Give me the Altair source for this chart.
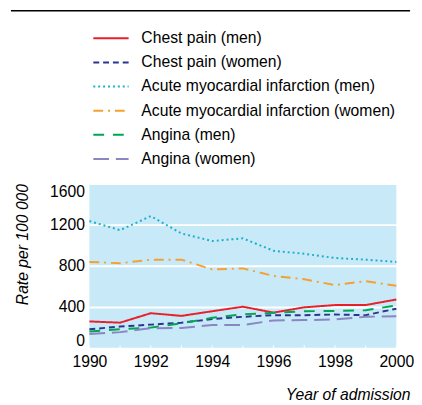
import altair as alt
import pandas as pd

years = list(range(1990, 2001))
series_names = [
    "Chest pain (men)",
    "Chest pain (women)",
    "Acute myocardial infarction (men)",
    "Acute myocardial infarction (women)",
    "Angina (men)",
    "Angina (women)",
]
chest_pain_men = [260, 248, 340, 314, 359, 403, 346, 397, 419, 419, 473]
chest_pain_women = [184, 210, 229, 248, 283, 305, 321, 321, 327, 321, 384]
ami_men = [1235, 1146, 1283, 1114, 1041, 1067, 946, 917, 876, 860, 838]
ami_women = [838, 825, 860, 860, 765, 775, 702, 670, 613, 651, 606]
angina_men = [162, 184, 200, 241, 295, 330, 343, 359, 362, 368, 416]
angina_women = [137, 156, 194, 197, 225, 225, 270, 273, 279, 305, 311]

colors = ["#e8202a", "#2b3590", "#1ab0c8", "#f5a030", "#00a651", "#8a86c2"]
dashes = [[1, 0], [6, 4], [2, 3], [10, 5, 2, 5], [11, 9], [16, 7]]

rows = []
for name, vals in zip(series_names, [chest_pain_men, chest_pain_women, ami_men,
                                     ami_women, angina_men, angina_women]):
    for y, v in zip(years, vals):
        rows.append({"year": y, "rate": v, "series": name})
df = pd.DataFrame(rows)

FONT = "Liberation Sans"

xscale = alt.Scale(domain=[1990, 2000], nice=False, zero=False)

lines = alt.Chart(df).mark_line(strokeWidth=2, clip=False).encode(
    x=alt.X("year:Q", scale=xscale,
            axis=alt.Axis(values=list(range(1990, 2001, 2)),
                          format="d", grid=False, domain=False, ticks=False,
                          labelFontSize=16, labelFont=FONT, labelColor="black",
                          labelPadding=6, labelFlush=False,
                          title="Year of admission", titleFont=FONT,
                          titleFontStyle="italic", titleFontWeight="normal",
                          titleFontSize=16, titleColor="black",
                          titleAnchor="end", titleAlign="right",
                          titleBaseline="top",
                          titleX=327, titleY=39)),
    y=alt.Y("rate:Q",
            scale=alt.Scale(domain=[0, 1600], nice=False),
            axis=alt.Axis(values=[0, 400, 800, 1200, 1600], format="d",
                          grid=True, gridColor="white", gridWidth=2,
                          domain=False, ticks=False,
                          labelFontSize=16, labelFont=FONT, labelColor="black",
                          labelPadding=5, labelFlush=True,
                          title="Rate per 100 000", titleFont=FONT,
                          titleFontStyle="italic", titleFontWeight="normal",
                          titleFontSize=16, titleColor="black",
                          titleAnchor="end", titlePadding=20)),
    color=alt.Color("series:N",
                    scale=alt.Scale(domain=series_names, range=colors),
                    legend=alt.Legend(title=None, orient="none",
                                      legendX=3, legendY=-158,
                                      symbolType="M-1,0H3", symbolSize=324,
                                      symbolStrokeWidth=2,
                                      labelFont=FONT, labelFontSize=16,
                                      labelColor="black", labelOffset=30,
                                      rowPadding=6.6, labelLimit=400)),
    strokeDash=alt.StrokeDash("series:N",
                              scale=alt.Scale(domain=series_names, range=dashes),
                              legend=None),
)

ticks = alt.Chart(pd.DataFrame({"year": years})).mark_rule(
    color="white", strokeWidth=1
).encode(x=alt.X("year:Q", scale=xscale), y=alt.value(168), y2=alt.value(165))

top_rule = alt.Chart(pd.DataFrame({"a": [0]})).mark_rule(
    color="black", strokeWidth=1.5, clip=False
).encode(x=alt.value(-80), x2=alt.value(327), y=alt.value(-176))

chart = alt.layer(lines, ticks, top_rule).properties(
    width=313, height=168,
    autosize=alt.AutoSizeParams(type="none"),
    padding={"left": 83, "top": 175, "right": 18, "bottom": 54},
).configure_view(fill="#c8e9f8", stroke=None)

chart.save("out.html", embed_options={"renderer": "svg", "actions": False})
